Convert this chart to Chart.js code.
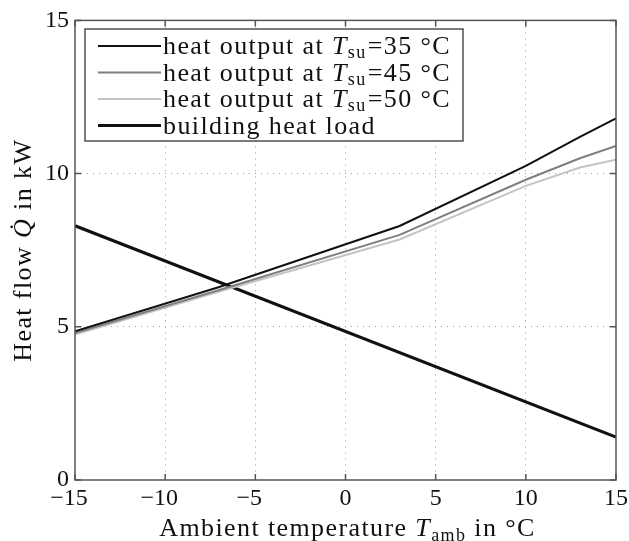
<!DOCTYPE html>
<html><head><meta charset="utf-8">
<script src="https://cdn.jsdelivr.net/npm/chart.js@4/dist/chart.umd.min.js"></script>
<style>html,body{margin:0;padding:0;background:#fff}#wrap{width:629px;height:541px}</style>
</head><body><div id="wrap"><canvas id="c" width="629" height="541"></canvas></div>
<script>
const xTicks = [-15, -10, -5, 0, 5, 10, 15];
const yTicks = [0, 5, 10, 15];
const tAmb = [-15, -7, 3, 10, 13, 15];
const out35 = [4.85, 6.3, 8.29, 10.25, 11.2, 11.8];
const out45 = [4.8, 6.2, 8.0, 9.8, 10.5, 10.9];
const out50 = [4.75, 6.15, 7.85, 9.6, 10.2, 10.45];
const loadT = [-15, 15];
const loadQ = [8.3, 1.4];
const labels = ['35', '45', '50'];

const FONT = '"Liberation Serif", "DejaVu Serif", serif';
const FS = 26;
const LS = '1.4px';

function pts(xs, ys){ return xs.map((x,i)=>({x:x, y:ys[i]})); }

const decor = {
  id:'decor',
  afterDraw(chart){
    const ctx = chart.ctx, a = chart.chartArea, xs = chart.scales.x, ys = chart.scales.y;
    ctx.save();
    // frame
    ctx.strokeStyle = '#555'; ctx.lineWidth = 1.5;
    ctx.strokeRect(a.left, a.top, a.right-a.left, a.bottom-a.top);
    // inward ticks
    ctx.beginPath();
    xTicks.forEach(v=>{ const px = xs.getPixelForValue(v);
      ctx.moveTo(px, a.bottom); ctx.lineTo(px, a.bottom-6);
      ctx.moveTo(px, a.top); ctx.lineTo(px, a.top+6); });
    yTicks.forEach(v=>{ const py = ys.getPixelForValue(v);
      ctx.moveTo(a.left, py); ctx.lineTo(a.left+6, py);
      ctx.moveTo(a.right, py); ctx.lineTo(a.right-6, py); });
    ctx.stroke();

    // legend
    const lx = 85, ly = 29, lw = 378, lh = 112;
    ctx.fillStyle = '#fff'; ctx.fillRect(lx, ly, lw, lh);
    ctx.strokeStyle = '#444'; ctx.lineWidth = 1.4; ctx.strokeRect(lx, ly, lw, lh);
    const ds = chart.data.datasets;
    ctx.textBaseline = 'alphabetic';
    ctx.letterSpacing = LS;
    ds.forEach((d,i)=>{
      const yc = ly + 17 + i*26.5;
      ctx.strokeStyle = d.borderColor; ctx.lineWidth = d.borderWidth;
      ctx.beginPath(); ctx.moveTo(lx+13, yc); ctx.lineTo(lx+76, yc); ctx.stroke();
      ctx.fillStyle = '#111';
      let x = lx + 78; const base = yc + 8;
      if (i < 3) {
        ctx.font = FS+'px '+FONT; ctx.fillText('heat output at ', x, base);
        x += ctx.measureText('heat output at ').width;
        ctx.font = 'italic '+FS+'px '+FONT; ctx.fillText('T', x, base);
        x += ctx.measureText('T').width;
        ctx.font = '18px '+FONT; ctx.fillText('su', x, base+4);
        x += ctx.measureText('su').width + 1;
        ctx.font = FS+'px '+FONT; ctx.fillText('=' + labels[i] + ' \u00B0C', x, base);
      } else {
        ctx.font = FS+'px '+FONT; ctx.fillText('building heat load', x, base);
      }
    });

    // x title
    ctx.fillStyle = '#111';
    const parts = [['Ambient temperature ', FS+'px '+FONT, 0], ['T', 'italic '+FS+'px '+FONT, 0], ['amb', '18px '+FONT, 5], [' in \u00B0C', FS+'px '+FONT, 0]];
    let tw = 0; parts.forEach(p=>{ ctx.font = p[1]; tw += ctx.measureText(p[0]).width; });
    let x = (a.left + a.right)/2 - tw/2 + 2; const by = 536;
    parts.forEach(p=>{ ctx.font = p[1]; ctx.fillText(p[0], x, by + p[2]); x += ctx.measureText(p[0]).width; });

    // y title
    ctx.translate(31, (a.top+a.bottom)/2);
    ctx.rotate(-Math.PI/2);
    const yp = [['Heat flow ', FS+'px '+FONT], ['Q\u0307', 'italic '+FS+'px '+FONT], [' in kW', FS+'px '+FONT]];
    tw = 0; yp.forEach(p=>{ ctx.font = p[1]; tw += ctx.measureText(p[0]).width; });
    x = -tw/2;
    yp.forEach(p=>{ ctx.font = p[1]; ctx.fillText(p[0], x, 0); x += ctx.measureText(p[0]).width; });
    ctx.restore();
  }
};

new Chart(document.getElementById('c'), {
  type: 'line',
  data: { datasets: [
    { label: 'heat output at Tsu=35 °C', data: pts(tAmb, out35), borderColor: '#111', borderWidth: 2 },
    { label: 'heat output at Tsu=45 °C', data: pts(tAmb, out45), borderColor: '#7f7f7f', borderWidth: 2 },
    { label: 'heat output at Tsu=50 °C', data: pts(tAmb, out50), borderColor: '#c4c4c4', borderWidth: 2 },
    { label: 'building heat load', data: pts(loadT, loadQ), borderColor: '#111', borderWidth: 3.2 }
  ]},
  options: {
    responsive: false, animation: false,
    layout: { padding: { left: 0, right: 13, top: 19, bottom: 0 } },
    elements: { point: { radius: 0 }, line: { tension: 0 } },
    plugins: { legend: { display: false }, tooltip: { enabled: false } },
    scales: {
      x: { type: 'linear', min: -15, max: 15,
        afterBuildTicks: s => { s.ticks = xTicks.map(v=>({value:v})); },
        afterFit: s => { s.height = 61; s.paddingLeft = 0; s.paddingRight = 0; },
        ticks: { font: { family: FONT, size: 24 }, color: '#111', padding: 4, maxRotation: 0,
          callback: v => (v < 0 ? '\u2212' + Math.abs(v) + '\u2002' : String(v)) },
        grid: { color: ctx => (ctx.tick && (ctx.tick.value === -15 || ctx.tick.value === 15)) ? 'rgba(0,0,0,0)' : '#999', lineWidth: 1, drawTicks: false },
        border: { display: false, dash: [1, 5] }
      },
      y: { type: 'linear', min: 0, max: 15,
        afterBuildTicks: s => { s.ticks = yTicks.map(v=>({value:v})); },
        afterFit: s => { s.width = 75; },
        ticks: { font: { family: FONT, size: 24 }, color: '#111', padding: 6 },
        grid: { color: ctx => (ctx.tick && (ctx.tick.value === 0 || ctx.tick.value === 15)) ? 'rgba(0,0,0,0)' : '#999', lineWidth: 1, drawTicks: false },
        border: { display: false, dash: [1, 5] }
      }
    }
  },
  plugins: [decor]
});
</script></body></html>
